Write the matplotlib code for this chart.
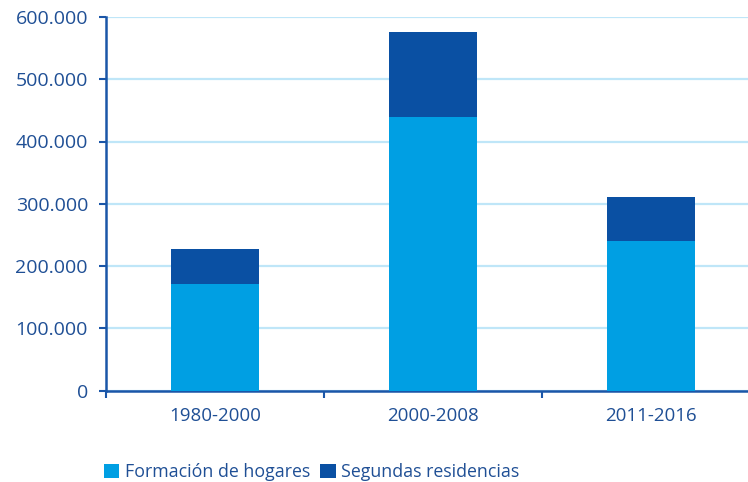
import numpy as np
import matplotlib.pyplot as plt
from matplotlib.ticker import FuncFormatter

# --- DATA ---
periods = ["1980-2000", "2000-2008", "2011-2016"]
hogares = [171000, 439000, 240000]
segundas = [56000, 137000, 71000]
yticks = [0, 100000, 200000, 300000, 400000, 500000, 600000]

LIGHT = "#009fe3"
DARK = "#0a50a3"
AXIS = "#1a56a8"
TEXT = "#1f4f95"
GRID = "#bfe6f8"

plt.rcParams["font.family"] = ["Open Sans", "DejaVu Sans"]

fig = plt.figure(figsize=(7.48, 4.82), dpi=100)
# plot area runs past the right edge of the image, as in the reference
ax = fig.add_axes([106 / 748, 1 - 390.5 / 482, 654 / 748, 373.5 / 482])

x = np.arange(len(periods))
ax.bar(x, hogares, width=0.4, color=LIGHT, label="Formación de hogares", zorder=3)
ax.bar(x, segundas, width=0.4, bottom=hogares, color=DARK,
       label="Segundas residencias", zorder=3)

ax.set_xlim(-0.5, len(periods) - 0.5)
ax.set_ylim(0, 600000)
ax.set_yticks(yticks)
ax.yaxis.set_major_formatter(FuncFormatter(lambda v, p: f"{int(v):,}".replace(",", ".")))
ax.grid(axis="y", color=GRID, linewidth=1.6, zorder=0)

ax.set_xticks(x)
ax.set_xticklabels(periods)
ax.set_xticks(np.arange(len(periods) + 1) - 0.5, minor=True)
ax.tick_params(axis="x", which="major", length=0, pad=12, labelsize=13.5, labelcolor=TEXT)
ax.tick_params(axis="x", which="minor", length=5, width=1.5, color=AXIS, direction="out")
ax.tick_params(axis="y", length=5, width=1.5, color=AXIS, labelsize=14, labelcolor=TEXT, pad=8)

for s in ["top", "right"]:
    ax.spines[s].set_visible(False)
for s in ["left", "bottom"]:
    ax.spines[s].set_color(AXIS)
    ax.spines[s].set_linewidth(1.8)

fig.legend(loc="center left", bbox_to_anchor=(97 / 748, 1 - 472 / 482), ncol=2,
           frameon=False, fontsize=12.8, handlelength=0.85, handleheight=0.85,
           handletextpad=0.3, columnspacing=0.6, labelcolor=TEXT, borderaxespad=0)

fig.savefig("out.png", dpi=100)
